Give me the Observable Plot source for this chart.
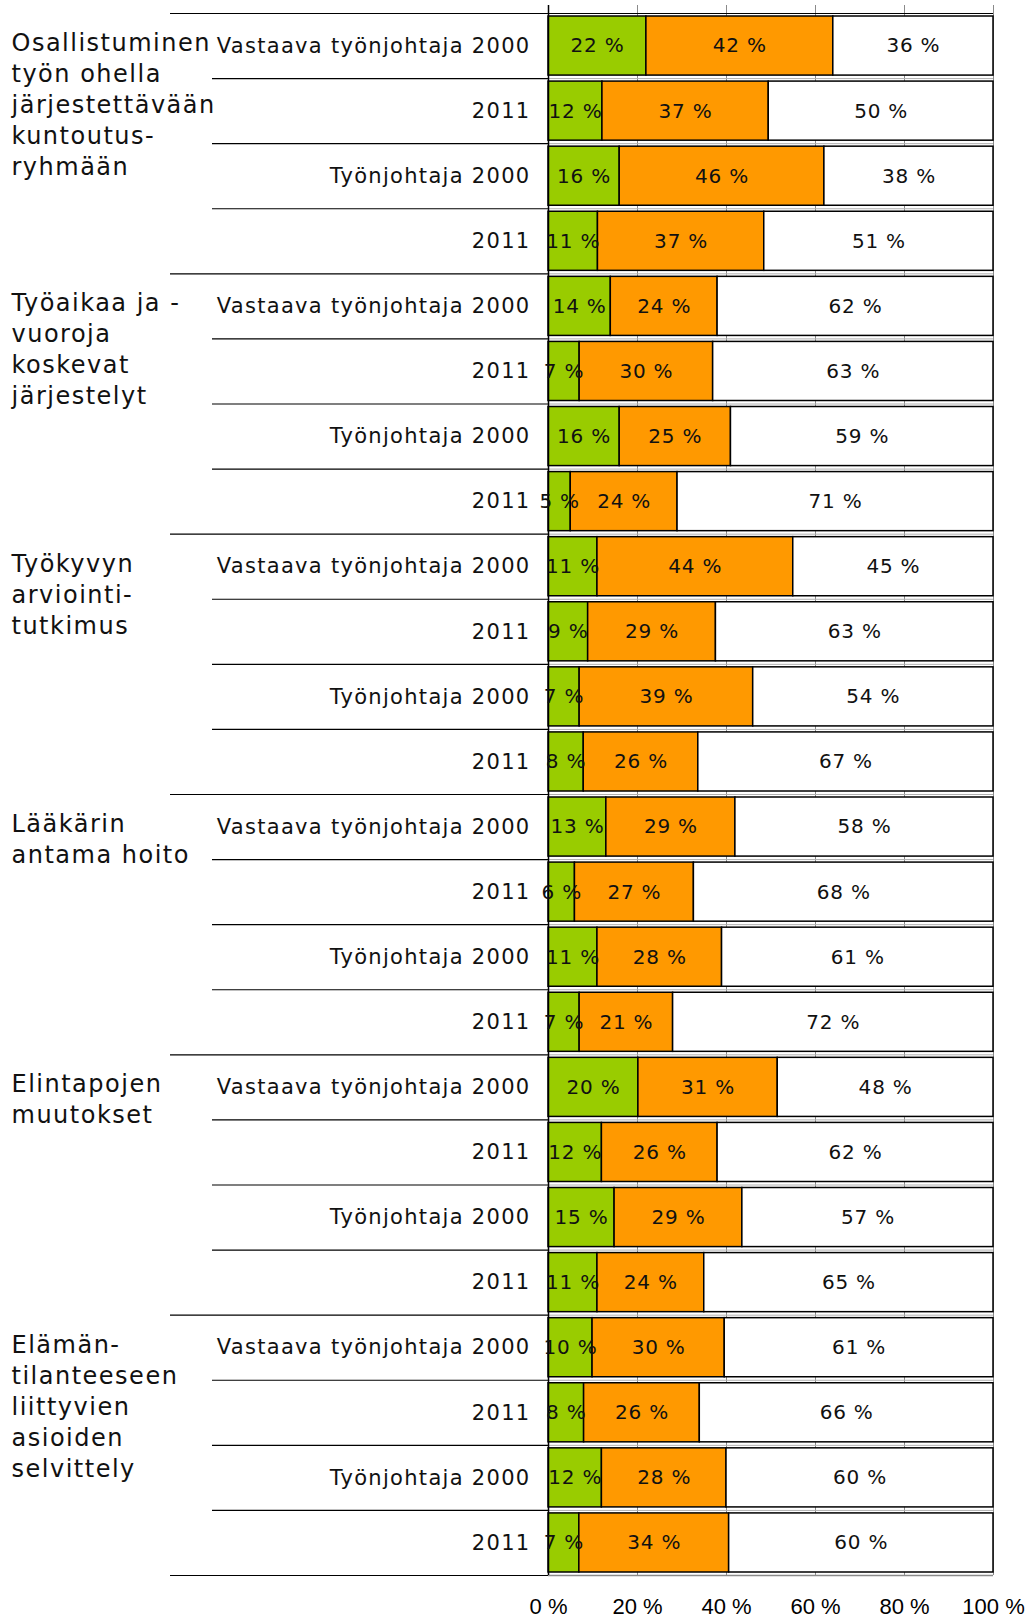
<!DOCTYPE html>
<html><head><meta charset="utf-8">
<script src="https://cdn.jsdelivr.net/npm/d3@7"></script>
<script src="https://cdn.jsdelivr.net/npm/@observablehq/plot@0.6"></script>
<style>
body{margin:0;background:#fff}
#chart svg{display:block}
#chart g[font-size="24"] text{letter-spacing:1.5px}
#chart g[font-size="21"] text{letter-spacing:1.3px}
#chart g[font-size="20"] text{letter-spacing:0.8px}
</style>
</head><body><div id="chart"></div>
<script>
// ---- data ----
const groupLabels = [
  "Osallistuminen\ntyön ohella\njärjestettävään\nkuntoutus-\nryhmään",
  "Työaikaa ja -\nvuoroja\nkoskevat\njärjestelyt",
  "Työkyvyn\narviointi-\ntutkimus",
  "Lääkärin\nantama hoito",
  "Elintapojen\nmuutokset",
  "Elämän-\ntilanteeseen\nliittyvien\nasioiden\nselvittely"
];
const rowLabels = ["Vastaava työnjohtaja 2000", "2011", "Työnjohtaja 2000", "2011"];
const seriesColors = ["#99cc00", "#ff9900", "#ffffff"];
const green  = [22,12,16,11, 14,7,16,5, 11,9,7,8, 13,6,11,7, 20,12,15,11, 10,8,12,7];
const orange = [42,37,46,37, 24,30,25,24, 44,29,39,26, 29,27,28,21, 31,26,29,24, 30,26,28,34];
const white  = [36,50,38,51, 62,63,59,71, 45,63,54,67, 58,68,61,72, 48,62,57,65, 61,66,60,60];
const xTicks = [0, 0.2, 0.4, 0.6, 0.8, 1];

// ---- derived tables ----
const nRows = green.length;
const rows = d3.range(nRows).map(i => ({i, label: rowLabels[i % 4], group: Math.floor(i / 4)}));
const segs = [];
rows.forEach(r => {
  const vals = [green[r.i], orange[r.i], white[r.i]];
  const total = d3.sum(vals);
  let cum = 0;
  vals.forEach((v, k) => {
    segs.push({i: r.i, k, v, x1: cum / total, x2: (cum + v) / total, fill: seriesColors[k]});
    cum += v;
  });
});
const groupsData = groupLabels.map((t, g) => ({g, start: g * 4, text: t}));
const groupBounds = d3.range(0, nRows + 1, 4);
const innerBounds = d3.range(0, nRows + 1).filter(b => b % 4 !== 0);
const allBounds = d3.range(1, nRows);

const W = 1035, H = 1619, ML = 548, MR = 42, MT = 13, MB = 44;
const plotW = W - ML - MR;

const chart = Plot.plot({
  width: W, height: H,
  marginLeft: ML, marginRight: MR, marginTop: MT, marginBottom: MB,
  x: {domain: [0, 1], axis: null},
  y: {domain: [0, nRows], reverse: true, axis: null},
  style: {fontFamily: "'DejaVu Sans', sans-serif", background: "white", color: "#000"},
  marks: [
    Plot.ruleX(xTicks.slice(1), {stroke: "#8a8a8a", strokeWidth: 1, insetTop: -8}),
    Plot.ruleY(allBounds, {stroke: "#b0b0b0", strokeWidth: 1}),
    Plot.ruleY([nRows], {stroke: "#8a8a8a", strokeWidth: 1.5}),
    Plot.rectX(segs, {
      x1: "x1", x2: "x2", y1: "i", y2: d => d.i + 1,
      fill: "fill", stroke: "#000", strokeWidth: 1.5, insetTop: 3, insetBottom: 3
    }),
    Plot.ruleX([0], {stroke: "#000", strokeWidth: 1.5, insetTop: -8}),
    Plot.ruleY(groupBounds.slice(1), {stroke: "#000", strokeWidth: 1.2, insetLeft: -(ML - 170), insetRight: plotW}),
    Plot.ruleY([0], {stroke: "#000", strokeWidth: 1.2, insetLeft: -(ML - 170)}),
    Plot.ruleY(innerBounds, {stroke: "#000", strokeWidth: 1.2, insetLeft: -(ML - 212), insetRight: plotW}),
    Plot.text(segs, {
      x: d => (d.x1 + d.x2) / 2, y: d => d.i + 0.5, text: d => `${d.v} %`,
      fontSize: 20, fill: "#111"
    }),
    Plot.text(rows, {
      y: d => d.i + 0.5, text: "label", frameAnchor: "left", textAnchor: "end",
      dx: -18, fontSize: 21, fill: "#111"
    }),
    Plot.text(groupsData, {
      y: d => d.start + 0.5, text: "text", frameAnchor: "left", textAnchor: "start",
      lineAnchor: "top", dx: -(ML - 11), dy: -17, fontSize: 24, lineHeight: 1.29,
      fill: "#111"
    }),
    Plot.axisX(xTicks, {
      tickSize: 0, tickPadding: 23, tickFormat: d => `${Math.round(d * 100)} %`,
      fontSize: 22, fontFamily: "'Liberation Sans', Arial, sans-serif", label: null
    })
  ]
});
document.getElementById("chart").appendChild(chart);
</script>
</body></html>
